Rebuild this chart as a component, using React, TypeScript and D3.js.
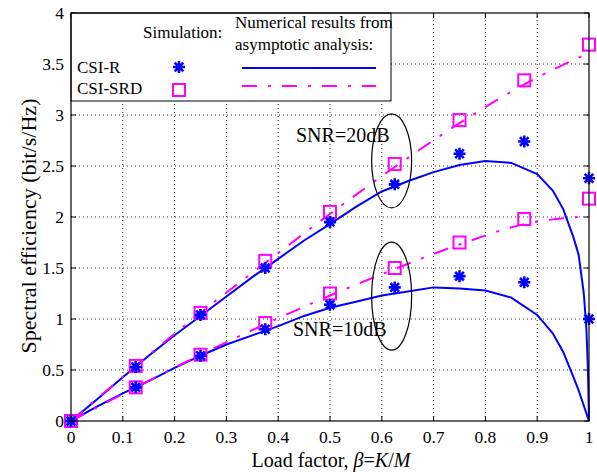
import React from "react";
import * as d3 from "d3";

// simulation points
const beta = [0, 0.125, 0.25, 0.375, 0.5, 0.625, 0.75, 0.875, 1];
const simR20 = [0, 0.53, 1.04, 1.5, 1.95, 2.32, 2.62, 2.74, 2.38];
const simSRD20 = [0, 0.54, 1.06, 1.57, 2.05, 2.52, 2.95, 3.34, 3.69];
const simR10 = [0, 0.33, 0.64, 0.9, 1.14, 1.31, 1.42, 1.36, 1.0];
const simSRD10 = [0, 0.33, 0.65, 0.96, 1.25, 1.5, 1.75, 1.98, 2.18];

// asymptotic analysis curves
const betaFine = [0, 0.05, 0.1, 0.15, 0.2, 0.25, 0.3, 0.35, 0.4, 0.45, 0.5, 0.55, 0.6, 0.65, 0.7, 0.75, 0.8, 0.85, 0.9, 0.93, 0.95, 0.97, 0.98, 0.99, 0.995, 0.998, 1];
const anaR20 = [0, 0.21, 0.43, 0.64, 0.84, 1.03, 1.22, 1.41, 1.59, 1.77, 1.93, 2.1, 2.25, 2.35, 2.44, 2.51, 2.55, 2.53, 2.42, 2.26, 2.08, 1.8, 1.63, 1.25, 0.9, 0.5, 0];
const anaR10 = [0, 0.14, 0.27, 0.39, 0.52, 0.64, 0.75, 0.84, 0.93, 1.03, 1.11, 1.17, 1.23, 1.27, 1.31, 1.3, 1.28, 1.21, 1.04, 0.86, 0.68, 0.43, 0.3, 0.15, 0.075, 0.03, 0];
const anaSRD20 = [0, 0.54, 1.06, 1.55, 2.03, 2.49, 2.92, 3.3, 3.61];
const anaSRD10 = [0, 0.33, 0.65, 0.95, 1.23, 1.49, 1.73, 1.93, 2.01];

const xTicks = [0, 0.1, 0.2, 0.3, 0.4, 0.5, 0.6, 0.7, 0.8, 0.9, 1];
const yTicks = [0, 0.5, 1, 1.5, 2, 2.5, 3, 3.5, 4];

const BLUE = "#0000ff";
const MAGENTA = "#ff00ff";
const FONT = "'Liberation Serif', 'Times New Roman', serif";
const DASHDOT = "15,11,3,11";

const starPath = (s: number) => {
  const d = s * 0.72;
  return `M${-s},0H${s}M0,${-s}V${s}M${-d},${-d}L${d},${d}M${-d},${d}L${d},${-d}`;
};

export default function App() {
  const W = 597, H = 474;
  const x = d3.scaleLinear().domain([0, 1]).range([71, 589]);
  const y = d3.scaleLinear().domain([0, 4]).range([421, 13]);
  const [x0, x1] = x.range();
  const [y0, y1] = y.range();

  const line = (xs: number[], ys: number[], curve = d3.curveLinear) =>
    d3.line<number>().x((d, i) => x(xs[i])).y((d) => y(d)).curve(curve)(ys) || "";

  const stars = (vals: number[]) =>
    vals.map((v, i) => (
      <path key={i} d={starPath(6)} transform={`translate(${x(beta[i])},${y(v)})`} stroke={BLUE} strokeWidth={2.6} fill="none" />
    ));
  const squares = (vals: number[]) =>
    vals.map((v, i) => (
      <rect key={i} x={x(beta[i]) - 6} y={y(v) - 6} width={12} height={12} stroke={MAGENTA} strokeWidth={2} fill="none" />
    ));

  return (
    <svg width={W} height={H} style={{ position: "absolute", left: 0, top: 0, background: "#fff" }} fontFamily={FONT}>
      {/* grid */}
      <g stroke="#333" strokeWidth={1} strokeDasharray="1,3">
        {xTicks.slice(1, -1).map((t) => (
          <line key={t} x1={x(t)} x2={x(t)} y1={y0} y2={y1} />
        ))}
        {yTicks.slice(1, -1).map((t) => (
          <line key={t} x1={x0} x2={x1} y1={y(t)} y2={y(t)} />
        ))}
      </g>

      {/* ticks on all sides */}
      <g stroke="#000" strokeWidth={1}>
        {xTicks.map((t) => (
          <g key={t}>
            <line x1={x(t)} x2={x(t)} y1={y0} y2={y0 - 5} />
            <line x1={x(t)} x2={x(t)} y1={y1} y2={y1 + 5} />
          </g>
        ))}
        {yTicks.map((t) => (
          <g key={t}>
            <line x1={x0} x2={x0 + 5} y1={y(t)} y2={y(t)} />
            <line x1={x1} x2={x1 - 5} y1={y(t)} y2={y(t)} />
          </g>
        ))}
      </g>

      {/* analysis curves */}
      <path d={line(betaFine, anaR20)} stroke={BLUE} strokeWidth={2} fill="none" />
      <path d={line(betaFine, anaR10)} stroke={BLUE} strokeWidth={2} fill="none" />
      <path d={line(beta, anaSRD20, d3.curveMonotoneX)} stroke={MAGENTA} strokeWidth={2} fill="none" strokeDasharray={DASHDOT} />
      <path d={line(beta, anaSRD10, d3.curveMonotoneX)} stroke={MAGENTA} strokeWidth={2} fill="none" strokeDasharray={DASHDOT} />

      {/* simulation markers */}
      {squares(simSRD20)}
      {squares(simSRD10)}
      {stars(simR20)}
      {stars(simR10)}

      {/* annotations */}
      <ellipse cx={x(0.619)} cy={y(2.55)} rx={20} ry={47} stroke="#000" strokeWidth={1.2} fill="none" />
      <ellipse cx={x(0.619)} cy={y(1.225)} rx={20} ry={54} stroke="#000" strokeWidth={1.2} fill="none" />
      <text x={296} y={142} fontSize={20}>SNR=20dB</text>
      <text x={293} y={336} fontSize={20}>SNR=10dB</text>

      {/* legend */}
      <rect x={x0} y={y1} width={320} height={88} fill="#fff" stroke="#000" strokeWidth={1} />
      <g fontSize={17}>
        <text x={143} y={38}>Simulation:</text>
        <text x={235} y={28}>Numerical results from</text>
        <text x={235} y={50}>asymptotic analysis:</text>
        <text x={77} y={73}>CSI-R</text>
        <text x={77} y={94}>CSI-SRD</text>
      </g>
      <path d={starPath(6)} transform="translate(179,67)" stroke={BLUE} strokeWidth={2.6} fill="none" />
      <rect x={173} y={84} width={12} height={12} stroke={MAGENTA} strokeWidth={2} fill="none" />
      <line x1={242} x2={376} y1={68} y2={68} stroke={BLUE} strokeWidth={2} />
      <line x1={242} x2={376} y1={86} y2={86} stroke={MAGENTA} strokeWidth={2} strokeDasharray={DASHDOT} />

      {/* box */}
      <rect x={x0} y={y1} width={x1 - x0} height={y0 - y1} fill="none" stroke="#000" strokeWidth={1.2} />

      {/* tick labels */}
      <g fontSize={17.5}>
        {xTicks.map((t) => (
          <text key={t} x={x(t)} y={443} textAnchor="middle">{d3.format("~g")(t)}</text>
        ))}
        {yTicks.map((t) => (
          <text key={t} x={64} y={y(t)} textAnchor="end" dominantBaseline="central">{d3.format("~g")(t)}</text>
        ))}
      </g>

      {/* axis titles */}
      <text x={331} y={467} textAnchor="middle" fontSize={20}>
        Load factor, <tspan fontStyle="italic">β</tspan>=<tspan fontStyle="italic">K</tspan>/<tspan fontStyle="italic">M</tspan>
      </text>
      <text transform="translate(36,226) rotate(-90)" textAnchor="middle" fontSize={22}>
        Spectral efficiency (bit/s/Hz)
      </text>
    </svg>
  );
}
